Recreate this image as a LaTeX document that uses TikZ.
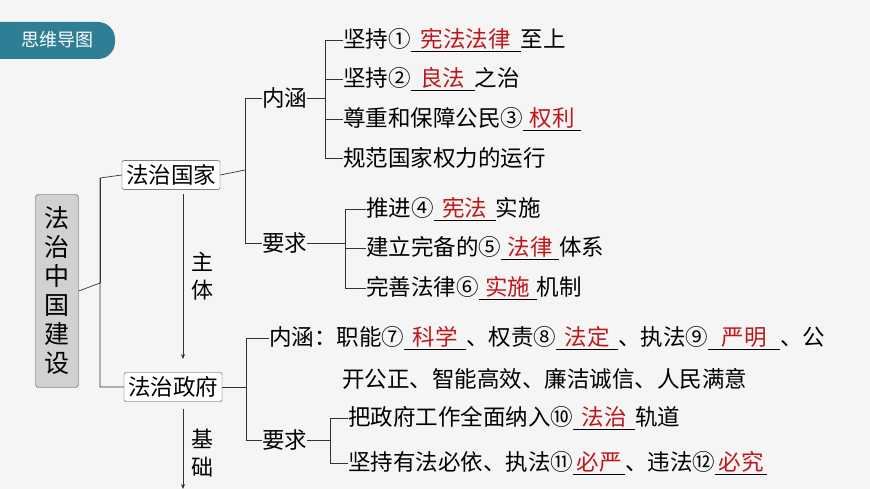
\documentclass[tikz,border=0pt]{standalone}
\usepackage{fontspec}
\setmainfont{Noto Sans CJK SC}
\usetikzlibrary{arrows.meta}
\definecolor{bg}{HTML}{F5F5F5}
\definecolor{teal}{HTML}{2E7F95}
\definecolor{ans}{HTML}{C0161B}
\newcommand{\blk}[2]{\underline{\makebox[#1pt]{\textcolor{ans}{\fontsize{22.5}{22.5}\selectfont #2}}}}
\tikzset{
  txt/.style={anchor=west,inner sep=0pt,font=\fontsize{22.5}{22.5}\selectfont},
  bx/.style={draw=black!75,rounded corners=2pt,fill=white,inner sep=4pt,font=\fontsize{22.5}{22.5}\selectfont},
  ln/.style={draw=black!80,line width=0.7pt}
}
\begin{document}
\begin{tikzpicture}[x=1pt,y=-1pt]
\path[fill=bg] (0,0) rectangle (870,489);
\useasboundingbox (0,0) rectangle (870,489);
% header
\path[fill=teal,rounded corners=17pt] (-20,22) rectangle (115,59);
\fill[teal] (-20,22) rectangle (60,59);
\node[text=white,font=\fontsize{18}{18}\selectfont] (hd) at (57,40) {思维导图};
% root
\node[draw=black!70,fill=black!18,rounded corners=3pt,minimum width=43pt,minimum height=193pt,font=\fontsize{25}{29}\selectfont,align=center] (root) at (57,291) {法\\治\\中\\国\\建\\设};
\node[bx] (gj) at (171,175) {法治国家};
\node[bx] (zf) at (173,387) {法治政府};
\draw[ln] (root.east) -- (100,283) (100,178) -- (gj.west) (100,178) |- (zf.west);
\draw[ln] (100,178) -- (100,283);
\draw[ln,-{Stealth[length=5pt,width=4pt]}] (183,194) -- (183,359);
\node[font=\fontsize{22}{28}\selectfont,align=center] (zt) at (202,276) {主\\体};
\draw[ln,-{Stealth[length=5pt,width=4pt]}] (183,409) -- (183,489);
\node[font=\fontsize{22}{28}\selectfont,align=center] (jc) at (202,453) {基\\础};
% 国家 branches
\node[txt] (n1) at (262,98) {内涵};
\node[txt] (y1) at (262,243) {要求};
\draw[ln] (gj.east) -- (245,170);
\draw[ln] (n1.west) -| (245,243) -- (y1.west);
\node[txt] (a1) at (343,40) {坚持①\blk{110}{宪法法律}至上};
\node[txt] (a2) at (343,79) {坚持②\blk{64}{良法}之治};
\node[txt] (a3) at (343,119) {尊重和保障公民③\blk{58}{权利}};
\node[txt] (a4) at (343,158) {规范国家权力的运行};
\draw[ln] (n1.east) -- (325,98);
\draw[ln] (a1.west) -| (325,158) -- (a4.west);
\draw[ln] (325,79) -- (a2.west) (325,119) -- (a3.west);
\node[txt] (b1) at (366,209) {推进④\blk{62}{宪法}实施};
\node[txt] (b2) at (366,248) {建立完备的⑤\blk{58}{法律}体系};
\node[txt] (b3) at (366,288) {完善法律⑥\blk{58}{实施}机制};
\draw[ln] (y1.east) -- (345,243);
\draw[ln] (b1.west) -| (345,288) -- (b3.west);
\draw[ln] (345,248) -- (b2.west);
% 政府 branches
\node[txt] (n2) at (269,338) {内涵：职能⑦\blk{62}{科学}、权责⑧\blk{62}{法定}、执法⑨\blk{72}{严明}、公};
\node[txt] (n2b) at (342,379) {开公正、智能高效、廉洁诚信、人民满意};
\node[txt] (y2) at (262,440) {要求};
\draw[ln] (zf.east) -- (246,387);
\draw[ln] (n2.west) -| (246,440) -- (y2.west);
\node[txt] (c1) at (348,418) {把政府工作全面纳入⑩\blk{62}{法治}轨道};
\node[txt] (c2) at (348,463) {坚持有法必依、执法⑪\blk{52}{必严}、违法⑫\blk{52}{必究}};
\draw[ln] (y2.east) -- (330,440);
\draw[ln] (c1.west) -| (330,463) -- (c2.west);
\end{tikzpicture}
\end{document}
